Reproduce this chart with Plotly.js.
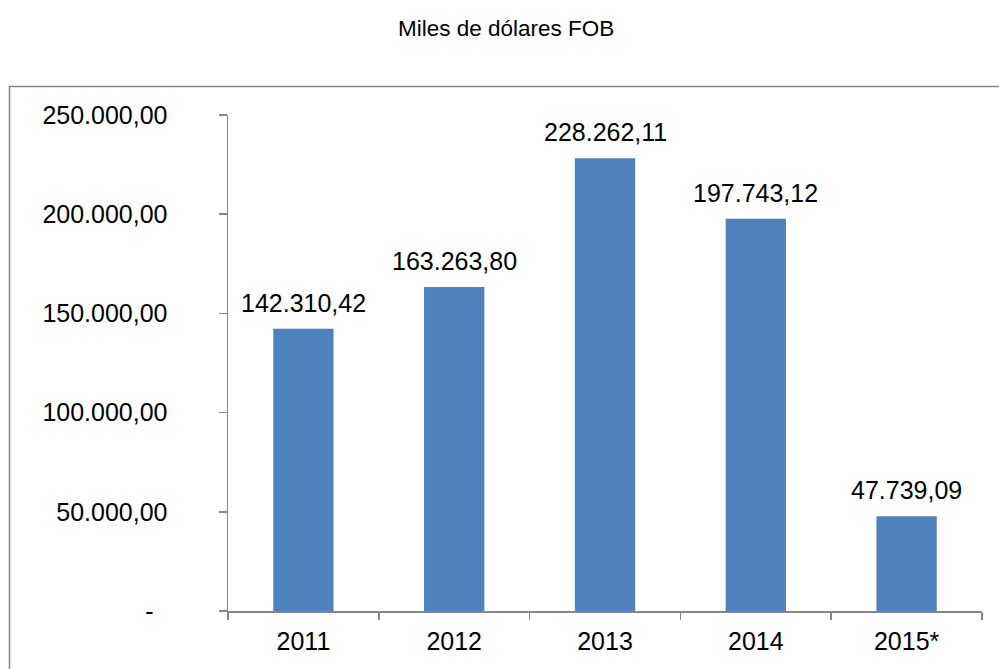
<!DOCTYPE html>
<html>
<head>
<meta charset="utf-8">
<script src="https://cdn.plot.ly/plotly-3.0.1.min.js"></script>
<style>
  html, body { margin: 0; padding: 0; background: #ffffff; }
  #chart { width: 999px; height: 669px; }
</style>
</head>
<body>
<div id="chart"></div>
<script>
const categories = ["2011", "2012", "2013", "2014", "2015*"];
const values = [142310.42, 163263.80, 228262.11, 197743.12, 47739.09];
const tickValues = [0, 50000, 100000, 150000, 200000, 250000];
const tickLabels = ["-&nbsp;&nbsp;", "50.000,00", "100.000,00", "150.000,00", "200.000,00", "250.000,00"];
const titleText = "Miles de dólares FOB";

function fmt(v) {
  const parts = v.toFixed(2).split(".");
  const intPart = parts[0].replace(/\B(?=(\d{3})+(?!\d))/g, ".");
  return intPart + "," + parts[1];
}

const W = 999, H = 669;
const L = 228, R = 982, T = 114.5, B = 611;
const pw = R - L, ph = B - T;
const px = x => (x - L) / pw;
const py = y => (B - y) / ph;

const FONT = "Liberation Sans, Arial, sans-serif";
const GREY = "#868686";

const trace = {
  type: "bar",
  x: categories,
  y: values,
  marker: { color: "#4F81BD", line: { width: 0 } },
  hoverinfo: "none"
};

const annotations = categories.map((c, i) => ({
  x: i, y: values[i], xref: "x", yref: "y",
  text: fmt(values[i]), showarrow: false,
  yanchor: "middle", yshift: 26,
  font: { family: FONT, size: 25, color: "#000000" }
}));

annotations.push({
  x: px(506), y: py(28), xref: "paper", yref: "paper",
  text: titleText, showarrow: false, xanchor: "center", yanchor: "middle",
  font: { family: FONT, size: 22.5, color: "#000000" }
});

const layout = {
  width: W, height: H,
  margin: { l: L, r: W - R, t: T, b: H - B, pad: 0 },
  paper_bgcolor: "#ffffff", plot_bgcolor: "#ffffff",
  showlegend: false,
  bargap: 0.6,
  font: { family: FONT, size: 25, color: "#000000" },
  xaxis: {
    type: "category",
    categoryorder: "array", categoryarray: categories,
    range: [-0.5, categories.length - 0.5], autorange: false,
    showline: true, linecolor: GREY, linewidth: 1.5,
    ticks: "outside", tickson: "boundaries", ticklen: 7, tickcolor: GREY, tickwidth: 1.5,
    showgrid: false, zeroline: false, tickangle: 0,
    tickfont: { family: FONT, size: 25, color: "#000000" },
    ticklabelstandoff: 7
  },
  yaxis: {
    range: [0, 250000], autorange: false,
    tickvals: tickValues, ticktext: tickLabels,
    showline: true, linecolor: GREY, linewidth: 1.5,
    ticks: "outside", ticklen: 8, tickcolor: GREY, tickwidth: 1.5,
    showgrid: false, zeroline: false,
    tickfont: { family: FONT, size: 25, color: "#000000" },
    ticklabelstandoff: 46
  },
  shapes: [{
    type: "rect", xref: "paper", yref: "paper",
    x0: px(9.5), x1: px(1010), y0: py(700), y1: py(86),
    line: { color: GREY, width: 1.5 }, fillcolor: "rgba(0,0,0,0)", layer: "below"
  }],
  annotations: annotations
};

Plotly.newPlot("chart", [trace], layout, { displayModeBar: false, staticPlot: true });
</script>
</body>
</html>
